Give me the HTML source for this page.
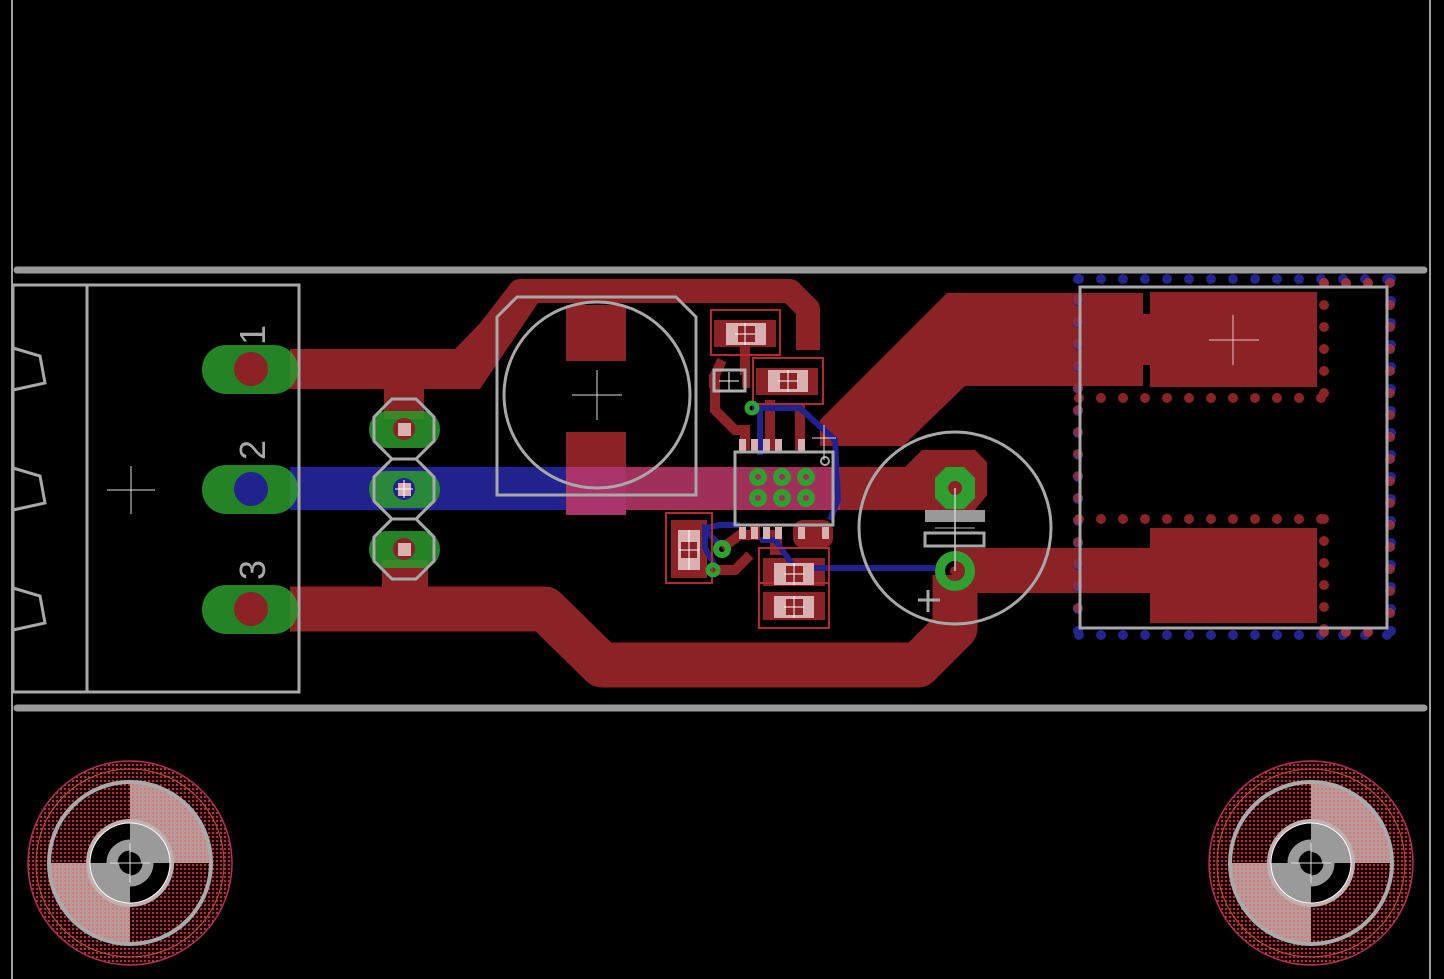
<!DOCTYPE html>
<html><head><meta charset="utf-8"><style>html,body{margin:0;padding:0;background:#000}svg{display:block}</style></head><body>
<svg width="1444" height="979" viewBox="0 0 1444 979" xmlns="http://www.w3.org/2000/svg">
<defs>
<pattern id="dot" width="4" height="4" patternUnits="userSpaceOnUse"><rect width="4" height="4" fill="#1a0206"/><rect width="2" height="2" fill="#b0303a"/></pattern>
<pattern id="dotl" width="4" height="4" patternUnits="userSpaceOnUse"><rect width="4" height="4" fill="#b89a9a"/><rect width="2" height="2" fill="#d07a7a"/></pattern>
</defs>
<rect width="1444" height="979" fill="#000"/>
<line x1="12" y1="0" x2="12" y2="979" stroke="#a0a0a0" stroke-width="2"/>
<line x1="1430" y1="0" x2="1430" y2="979" stroke="#a0a0a0" stroke-width="2"/>
<line x1="17" y1="270" x2="1424" y2="270" stroke="#9a9a9a" stroke-width="7" stroke-linecap="round"/>
<line x1="17" y1="708" x2="1424" y2="708" stroke="#9a9a9a" stroke-width="7" stroke-linecap="round"/>

<!-- red top traces -->
<g fill="#8b2226" stroke="none">
<rect x="290" y="349" width="175" height="40"/>
<polyline points="460,369 520,291 790,291 808,309 808,350" fill="none" stroke="#8b2226" stroke-width="24" stroke-linejoin="round"/>
<polygon points="455,349 520,282 540,300 480,389 455,389"/>
<rect x="384" y="389" width="40" height="30"/>
<rect x="382" y="560" width="46" height="30"/>
<polyline points="290,609 545,609 602,665 918,665 955,628 955,575" fill="none" stroke="#8b2226" stroke-width="45" stroke-linejoin="round"/>
<rect x="955" y="548" width="200" height="45"/>
<rect x="1150" y="528" width="167" height="95"/>
<polygon points="820,420 947,293 1143,293 1143,314 1150,314 1150,292 1317,292 1317,387 1150,387 1150,365 1143,365 1143,386 965,386 903,446 820,446"/>
<rect x="566" y="305" width="60" height="56"/>
<rect x="566" y="432" width="60" height="83"/>
<polygon points="922,450 975,450 987,462 987,495 975,510 840,510 840,467 905,467"/>
<!-- small traces -->
<polyline points="722,360 715,375 715,410 735,430 745,430 745,450" fill="none" stroke="#8b2226" stroke-width="10"/>
<polyline points="770,400 770,450" fill="none" stroke="#8b2226" stroke-width="10"/>
<polyline points="800,405 800,450" fill="none" stroke="#8b2226" stroke-width="10"/>
<polyline points="745,340 745,375" fill="none" stroke="#8b2226" stroke-width="10"/>
<polyline points="722,548 740,535 755,535 755,525" fill="none" stroke="#8b2226" stroke-width="10"/>
<polyline points="712,570 735,570 750,555" fill="none" stroke="#8b2226" stroke-width="10"/>
<rect x="793" y="520" width="40" height="28" rx="10"/>
<rect x="770" y="530" width="12" height="25"/>
<rect x="714" y="320" width="62" height="27"/>
<rect x="756" y="368" width="62" height="27"/>
<rect x="709" y="374" width="8" height="14"/>
<rect x="742" y="374" width="8" height="14"/>
<rect x="671" y="520" width="36" height="58"/>
<rect x="763" y="558" width="62" height="28"/>
<rect x="763" y="592" width="62" height="28"/>
</g>
<!-- blue traces -->
<rect x="290" y="467" width="276" height="43" fill="#22228f"/>
<rect x="566" y="467" width="274" height="43" fill="#a0305a"/>
<rect x="566" y="467" width="60" height="48" fill="#a8346a"/>
<g fill="none" stroke="#22228f" stroke-width="6">
<polyline points="752,408 800,408 835,440 838,500 830,520"/>
<polyline points="760,455 760,408"/>
<polyline points="720,545 705,530 705,548 712,560 715,568"/>
<polyline points="705,528 720,525 740,525"/>
<polyline points="760,540 775,540 795,568 935,568"/>
</g>
<!-- red outlines of SMD parts -->
<g fill="none" stroke="#b02a2e" stroke-width="2">
<rect x="711" y="310" width="69" height="45"/>
<rect x="753" y="358" width="70" height="46"/>
<rect x="666" y="513" width="46" height="70"/>
<rect x="759" y="548" width="70" height="80"/>
<line x1="759" y1="583" x2="829" y2="583"/>
</g>
<!-- SMD pad highlights -->
<g fill="#d8b0b0">
<rect x="726" y="323" width="40" height="22"/>
<rect x="768" y="370" width="40" height="22"/>
<rect x="678" y="530" width="22" height="40"/>
<rect x="774" y="563" width="40" height="22"/>
<rect x="774" y="596" width="40" height="22"/>
</g>
<g fill="#8b2226"><rect x="738" y="326" width="17" height="16"/><rect x="780" y="373" width="17" height="16"/><rect x="681" y="542" width="16" height="16"/><rect x="786" y="566" width="17" height="16"/><rect x="786" y="599" width="17" height="16"/></g>
<g fill="none" stroke="#fff" stroke-width="1"><path d="M745 323v22M735 334h20M788 370v22M778 381h20M689 530v40M679 550h20M794 563v22M784 574h20M794 596v22M784 607h20M729 372v20M719 381h20"/></g>
<rect x="714" y="370" width="31" height="21" fill="none" stroke="#b0b0b0" stroke-width="3"/>
<!-- IC -->
<g fill="#d8b0b0"><rect x="739" y="439" width="7" height="12"/><rect x="751" y="439" width="7" height="12"/><rect x="763" y="439" width="7" height="12"/><rect x="775" y="439" width="7" height="12"/><rect x="798" y="439" width="7" height="12"/>
<rect x="739" y="527" width="7" height="12"/><rect x="751" y="527" width="7" height="12"/><rect x="763" y="527" width="7" height="12"/><rect x="775" y="527" width="7" height="12"/><rect x="798" y="527" width="7" height="12"/><rect x="822" y="527" width="7" height="12"/></g>
<rect x="735" y="452" width="98" height="73" fill="none" stroke="#a8a8a8" stroke-width="3"/>
<circle cx="825" cy="461" r="4" fill="none" stroke="#a8a8a8" stroke-width="2"/>
<path d="M824 425v35M812 438h24" stroke="#ddd" stroke-width="1"/>
<g fill="none" stroke="#2fa02f" stroke-width="6"><circle cx="758" cy="477" r="6"/><circle cx="782" cy="477" r="6"/><circle cx="806" cy="477" r="6"/><circle cx="758" cy="498" r="6"/><circle cx="782" cy="498" r="6"/><circle cx="806" cy="498" r="6"/>
<circle cx="752" cy="408" r="5" stroke-width="5"/><circle cx="722" cy="549" r="6"/><circle cx="713" cy="570" r="5" stroke-width="5"/></g>

<!-- connector outline -->
<g fill="none" stroke="#a8a8a8" stroke-width="3">
<rect x="13" y="285" width="286" height="407"/>
<line x1="87" y1="285" x2="87" y2="692"/>
<polyline points="13,348 40,356 45,383 13,390"/>
<polyline points="13,468 40,476 45,503 13,510"/>
<polyline points="13,588 40,596 45,623 13,630"/>
</g>
<path d="M131 466v48M107 490h48" stroke="#ddd" stroke-width="1"/>
<g font-family="Liberation Sans, sans-serif" font-size="36" fill="#a8a8a8">
<text transform="translate(265,345) rotate(-90)">1</text>
<text transform="translate(265,460) rotate(-90)">2</text>
<text transform="translate(265,580) rotate(-90)">3</text>
</g>
<!-- connector pads -->
<g fill="#2a9a2a" fill-opacity="0.85">
<rect x="202" y="345" width="96" height="49" rx="24"/>
<rect x="202" y="465" width="96" height="49" rx="24"/>
<rect x="202" y="585" width="96" height="49" rx="24"/>
<rect x="369" y="411" width="71" height="37" rx="18"/>
<rect x="369" y="471" width="71" height="37" rx="18"/>
<rect x="369" y="531" width="71" height="37" rx="18"/>
</g>
<circle cx="251" cy="369" r="17" fill="#8b2226"/>
<circle cx="251" cy="489" r="17" fill="#22228f"/>
<circle cx="251" cy="609" r="17" fill="#8b2226"/>
<circle cx="404" cy="429" r="11" fill="#8b2226"/><rect x="398" y="423" width="13" height="13" fill="#d8b0b0"/>
<circle cx="404" cy="489" r="11" fill="#22228f"/><rect x="398" y="483" width="13" height="13" fill="#d8b0b0"/>
<path d="M404 480v18M395 489h18" stroke="#fff" stroke-width="1"/>
<circle cx="404" cy="549" r="11" fill="#8b2226"/><rect x="398" y="543" width="13" height="13" fill="#d8b0b0"/>
<g fill="none" stroke="#a8a8a8" stroke-width="3">
<polygon points="392,399 416,399 434,417 434,441 416,459 392,459 374,441 374,417"/>
<polygon points="392,459 416,459 434,477 434,501 416,519 392,519 374,501 374,477"/>
<polygon points="392,519 416,519 434,537 434,561 416,579 392,579 374,561 374,537"/>
<!-- big cap -->
<polygon points="517,297 676,297 696,317 696,495 497,495 497,317"/>
<circle cx="597" cy="395" r="93"/>
<!-- electrolytic -->
<circle cx="955" cy="528" r="96"/>
<rect x="925" y="533" width="59" height="13" stroke-width="3"/>
</g>
<path d="M597 370v50M572 395h50" stroke="#ddd" stroke-width="1"/>
<rect x="925" y="510" width="60" height="12" fill="#999"/>
<line x1="935" y1="528" x2="975" y2="528" stroke="#bbb" stroke-width="1"/>
<polygon points="946,467 964,467 975,478 975,498 964,509 946,509 935,498 935,478" fill="#2fa02f"/>
<circle cx="955" cy="488" r="7" fill="#8b2226"/>
<circle cx="955" cy="571" r="15" fill="none" stroke="#2fa02f" stroke-width="10"/>
<circle cx="955" cy="571" r="5" fill="#8b2226"/>
<line x1="955" y1="488" x2="955" y2="571" stroke="#ccc" stroke-width="1.5"/>
<path d="M928 590v22M918 600h22" stroke="#a8a8a8" stroke-width="3"/>

<!-- right module dots -->
<g fill="none" stroke-linecap="round" stroke-width="10">
<line x1="1079" y1="279" x2="1391" y2="279" stroke="#24248f" stroke-dasharray="0 22"/>
<line x1="1079" y1="635" x2="1391" y2="635" stroke="#24248f" stroke-dasharray="0 22"/>
<line x1="1078" y1="279" x2="1078" y2="635" stroke="#24248f" stroke-dasharray="0 22"/>
<line x1="1391" y1="279" x2="1391" y2="635" stroke="#24248f" stroke-dasharray="0 22"/>
<line x1="1079" y1="398" x2="1323" y2="398" stroke="#8b2226" stroke-dasharray="0 22"/>
<line x1="1079" y1="519" x2="1323" y2="519" stroke="#8b2226" stroke-dasharray="0 22"/>
<line x1="1324" y1="283" x2="1324" y2="398" stroke="#8b2226" stroke-dasharray="0 22"/>
<line x1="1324" y1="519" x2="1324" y2="632" stroke="#8b2226" stroke-dasharray="0 22"/>
<line x1="1390" y1="283" x2="1390" y2="632" stroke="#9a3040" stroke-dasharray="0 22" stroke-opacity="0.9"/>
<line x1="1078" y1="300" x2="1078" y2="620" stroke="#9a3040" stroke-dasharray="0 22" stroke-opacity="0.8"/>
<line x1="1324" y1="283" x2="1390" y2="283" stroke="#9a3040" stroke-dasharray="0 22"/>
<line x1="1324" y1="632" x2="1390" y2="632" stroke="#9a3040" stroke-dasharray="0 22"/>
</g>
<rect x="1080" y="287" width="307" height="341" fill="none" stroke="#a8a8a8" stroke-width="3"/>
<path d="M1233 315v50M1209 340h50" stroke="#e8c0c0" stroke-width="1"/>

<!-- mounting holes -->
<g id="h1">
<circle cx="130" cy="863" r="102" fill="url(#dot)" stroke="#b03050" stroke-width="1.5"/>
<circle cx="130" cy="863" r="94" fill="none" stroke="#c05040" stroke-width="1"/>
<path d="M130 863V781A82 82 0 0 1 212 863Z" fill="url(#dotl)"/>
<path d="M130 863V945A82 82 0 0 1 48 863Z" fill="url(#dotl)"/>
<circle cx="130" cy="863" r="81" fill="none" stroke="#aaa" stroke-width="4"/>
<circle cx="130" cy="863" r="42" fill="#000" stroke="#c0b0b0" stroke-width="4"/>
<path d="M130 863V823A40 40 0 0 1 170 863Z" fill="#9a9a9a"/>
<path d="M130 863V903A40 40 0 0 1 90 863Z" fill="#9a9a9a"/>
<circle cx="130" cy="863" r="40" fill="none" stroke="#fff" stroke-width="1"/>
<circle cx="130" cy="863" r="18" fill="none" stroke="#9a9a9a" stroke-width="11"/>
<circle cx="130" cy="863" r="11" fill="#000"/>
<path d="M130 843v40M110 863h40" stroke="#ddd" stroke-width="1"/>
</g>
<use href="#h1" x="1181" y="0"/>
</svg>
</body></html>
